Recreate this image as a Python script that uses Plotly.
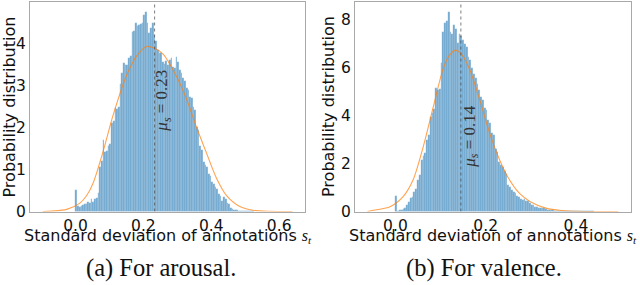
import plotly.graph_objects as go

# ---------------- data ----------------
arousal_bin_width = 0.005
arousal_density = [
    0.51, 0.12, 0.10, 0.13, 0.15, 0.17, 0.18, 0.22, 0.20, 0.29,
    0.22, 0.30, 0.33, 0.45, 1.07, 1.20, 1.70, 1.42, 1.44, 1.55,
    1.60, 2.10, 2.15, 2.46, 2.44, 2.50, 3.03, 3.30, 3.53, 3.50,
    3.50, 3.65, 3.70, 4.28, 4.30, 4.48, 4.42, 4.45, 4.46, 4.50,
    4.68, 4.76, 4.50, 4.25, 4.36, 4.48, 4.20, 4.05, 3.85, 3.78,
    3.78, 3.55, 3.52, 3.58, 3.50, 3.60, 3.65, 3.45, 3.42, 3.69,
    3.55, 3.37, 3.30, 3.18, 3.10, 2.95, 2.90, 2.73, 2.70, 2.50,
    2.42, 2.02, 1.95, 1.55, 1.46, 1.19, 1.10, 1.07, 0.90, 0.85,
    0.70, 0.66, 0.58, 0.54, 0.42, 0.38, 0.25, 0.35, 0.30, 0.20,
    0.18, 0.09, 0.07, 0.04, 0.03, 0.03, 0.02, 0.02, 0.01, 0.01,
    0.005, 0.005, 0.003, 0.002, 0.002,
]
arousal_fit_x = [-0.097, -0.07, -0.026, 0.013, 0.033, 0.052, 0.082, 0.111, 0.151, 0.18,
                 0.209, 0.235, 0.258, 0.298, 0.327, 0.356, 0.386, 0.415, 0.445, 0.484,
                 0.523, 0.57, 0.639]
arousal_fit_y = [0.0, 0.01, 0.05, 0.2, 0.38, 0.68, 1.45, 2.3, 3.25, 3.7,
                 3.93, 3.88, 3.75, 3.21, 2.68, 2.02, 1.39, 0.8, 0.38, 0.12,
                 0.03, 0.005, 0.0]
arousal_mean = 0.233
arousal_label = "0.23"

valence_bin_width = 0.004
valence_density = [
    0.66, 0.04, 0.05, 0.07, 0.09, 0.13, 0.25, 0.41, 0.55, 0.62,
    0.80, 0.92, 1.31, 1.50, 2.14, 2.30, 2.45, 2.97, 3.18, 3.94,
    4.10, 4.25, 5.12, 5.05, 5.10, 6.16, 7.47, 7.82, 7.90, 8.30,
    7.47, 7.40, 7.75, 7.60, 6.99, 7.40, 7.30, 7.13, 6.95, 6.85,
    6.43, 6.30, 5.95, 5.70, 5.54, 5.30, 5.05, 4.75, 4.63, 4.30,
    4.22, 3.80, 3.67, 3.25, 3.18, 2.60, 2.47, 2.07, 1.95, 1.86,
    1.70, 1.55, 1.10, 1.00, 0.89, 0.80, 0.76, 0.66, 0.62, 0.50,
    0.48, 0.50, 0.45, 0.43, 0.35, 0.27, 0.27, 0.20, 0.17, 0.16,
    0.15, 0.14, 0.13, 0.10, 0.07, 0.06, 0.06, 0.05, 0.04, 0.04,
    0.03, 0.03, 0.03, 0.02, 0.02, 0.02, 0.01, 0.02, 0.01, 0.01,
    0.01, 0.01, 0.005, 0.005, 0.005, 0.003, 0.003, 0.002, 0.002, 0.002,
]
valence_fit_x = [-0.062, -0.045, -0.012, 0.017, 0.039, 0.0615, 0.084, 0.106, 0.12, 0.134,
                 0.15, 0.165, 0.187, 0.209, 0.231, 0.25, 0.275, 0.298, 0.335, 0.37, 0.4,
                 0.45, 0.494]
valence_fit_y = [0.0, 0.06, 0.2, 0.62, 1.31, 2.69, 4.36, 5.95, 6.5, 6.71,
                 6.45, 5.88, 4.63, 3.25, 2.14, 1.4, 0.75, 0.42, 0.13, 0.04, 0.01,
                 0.0, 0.0]
valence_mean = 0.145
valence_label = "0.14"

x_ticks_a = [0.0, 0.2, 0.4, 0.6]
x_ticks_b = [0.0, 0.2, 0.4]
y_ticks_a = [0, 1, 2, 3, 4]
y_ticks_b = [0, 2, 4, 6, 8]
captions = ["(a) For arousal.", "(b) For valence."]
y_title = "Probability distribution"
x_title = ("Standard deviation of annotations "
           "<span style='font-family:\"Liberation Serif\",serif'><i>s<sub>t</sub></i></span>")

# ---------------- styling ----------------
W, H = 640, 285
BAR = "rgba(31,119,180,0.63)"
FIT = "rgba(255,127,14,0.72)"
SANS = "DejaVu Sans"
SERIF = "Liberation Serif"

def px_x(p):
    return p / W

def px_y(p):
    return 1 - p / H

fig = go.Figure()

panels = [
    dict(dens=arousal_density, bw=arousal_bin_width, fx=arousal_fit_x, fy=arousal_fit_y,
         mean=arousal_mean, label=arousal_label, xa="x", ya="y"),
    dict(dens=valence_density, bw=valence_bin_width, fx=valence_fit_x, fy=valence_fit_y,
         mean=valence_mean, label=valence_label, xa="x2", ya="y2"),
]

for p in panels:
    centers = [(i + 0.5) * p["bw"] for i in range(len(p["dens"]))]
    fig.add_trace(go.Bar(
        x=centers, y=p["dens"], width=p["bw"], xaxis=p["xa"], yaxis=p["ya"],
        marker=dict(color=BAR, line=dict(width=0.3, color="rgba(255,255,255,0.35)")),
        showlegend=False, hoverinfo="skip"))
    fig.add_trace(go.Scatter(
        x=p["fx"], y=p["fy"], mode="lines", line=dict(color=FIT, width=1.1, shape="spline", smoothing=0.8),
        xaxis=p["xa"], yaxis=p["ya"], showlegend=False, hoverinfo="skip"))

# mean lines
for p, ymax in [(panels[0], 5.0), (panels[1], 8.71)]:
    fig.add_trace(go.Scatter(
        x=[p["mean"], p["mean"]], y=[0, ymax], mode="lines",
        line=dict(color="rgba(70,70,70,0.7)", width=1, dash="dot"),
        xaxis=p["xa"], yaxis=p["ya"], showlegend=False, hoverinfo="skip"))

axis_common = dict(showline=True, mirror=True, linecolor="#a8a8a8", linewidth=1.2,
                   showgrid=False, zeroline=False, ticks="", ticklen=0, automargin=False,
                   tickfont=dict(family=SANS, size=15.5, color="#111"))

fig.update_layout(
    template="none",
    width=W, height=H, margin=dict(l=0, r=0, t=0, b=0, pad=0),
    paper_bgcolor="white", plot_bgcolor="white", bargap=0,
    xaxis=dict(domain=[px_x(30), px_x(305)], range=[-0.134, 0.676], anchor="y",
               tickvals=x_ticks_a, tickformat=".1f", **axis_common),
    yaxis=dict(domain=[px_y(211.5), px_y(2)], range=[0, 4.99], anchor="x",
               tickvals=y_ticks_a, **axis_common),
    xaxis2=dict(domain=[px_x(355), px_x(631)], range=[-0.0896, 0.522], anchor="y2",
                tickvals=x_ticks_b, tickformat=".1f", **axis_common),
    yaxis2=dict(domain=[px_y(211.5), px_y(2)], range=[0, 8.71], anchor="x2",
                tickvals=y_ticks_b, **axis_common),
)

ann = []
# y titles
for xp in (8.5, 328):
    ann.append(dict(text=y_title, x=px_x(xp), y=px_y(107), xref="paper", yref="paper",
                    textangle=-90, showarrow=False, xanchor="center", yanchor="middle",
                    font=dict(family=SANS, size=16, color="#111")))
# x titles
for xl in (22, 347):
    ann.append(dict(text=x_title, x=px_x(xl), y=px_y(235.5), xref="paper", yref="paper",
                    showarrow=False, xanchor="left", yanchor="middle",
                    font=dict(family=SANS, size=16, color="#111")))
# captions
for xc, cap in zip((160.5, 484), captions):
    ann.append(dict(text=cap, x=px_x(xc), y=px_y(267.5), xref="paper", yref="paper",
                    showarrow=False, xanchor="center", yanchor="middle",
                    font=dict(family=SERIF, size=24.5, color="#111")))
# mean labels
ann.append(dict(text="<i>μ<sub>s</sub></i> = " + arousal_label, x=0.259, y=2.65, xref="x", yref="y",
                textangle=-90, showarrow=False, xanchor="center", yanchor="middle",
                font=dict(family=SERIF, size=17, color="#333")))
ann.append(dict(text="<i>μ<sub>s</sub></i> = " + valence_label, x=0.167, y=3.14, xref="x2", yref="y2",
                textangle=-90, showarrow=False, xanchor="center", yanchor="middle",
                font=dict(family=SERIF, size=17, color="#333")))
fig.update_layout(annotations=ann)

fig.write_html("out.html", config={"displayModeBar": False},
               post_script="document.body.style.margin='0';")
